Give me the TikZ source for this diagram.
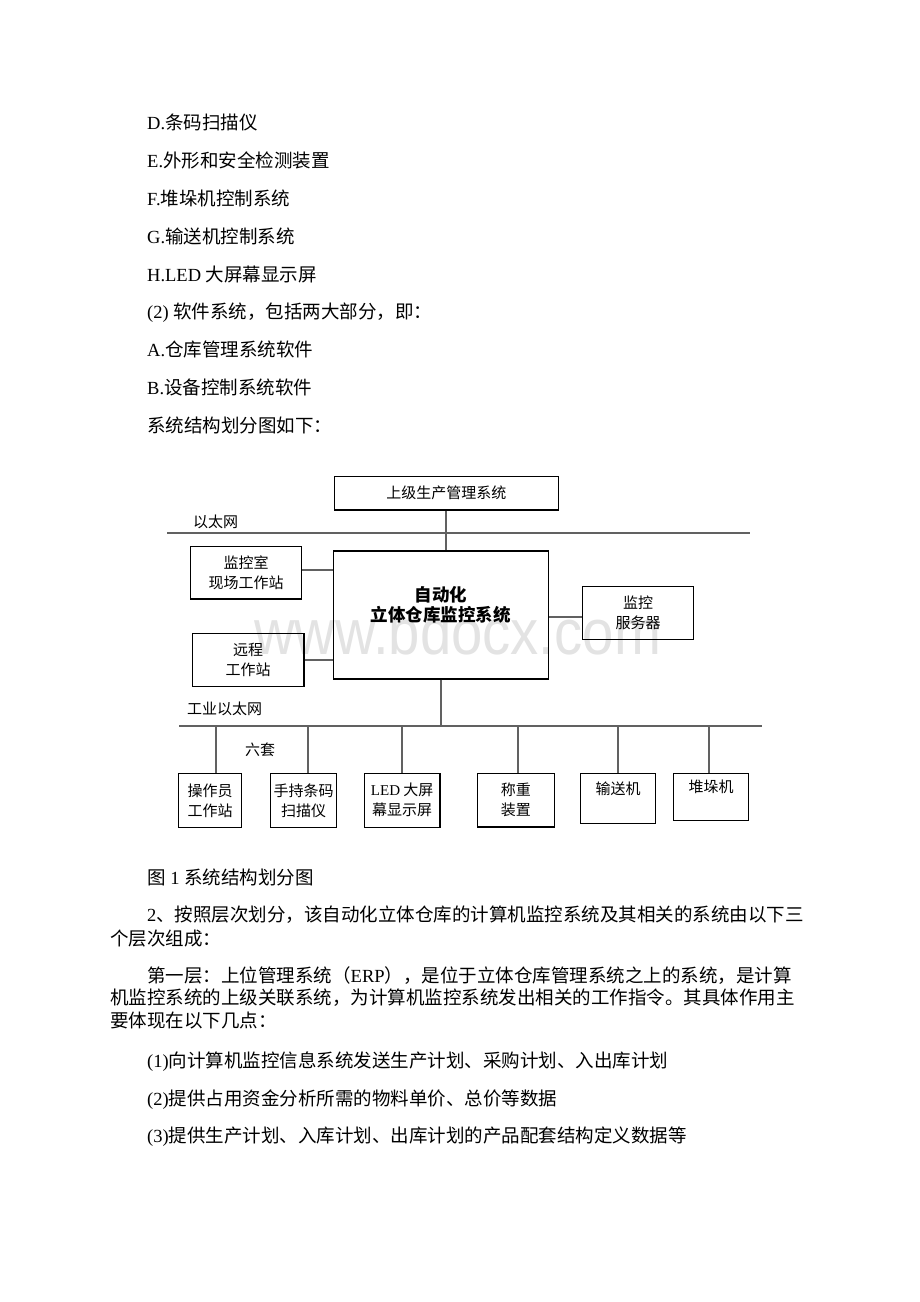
\documentclass[tikz,border=0pt]{standalone}
\usepackage{fontspec}
\setmainfont{Liberation Serif}
\setsansfont{Liberation Sans}
\newfontfamily\cjk{Noto Sans CJK SC}
\usetikzlibrary{positioning}
\newcommand\lat[1]{{\rmfamily #1}}
\newcommand\cuerpo{\cjk\fontsize{18.5}{22}\selectfont}
\newcommand\diag{\cjk\fontsize{15}{20}\selectfont}
\newcommand\diagbold{\cjk\bfseries\fontsize{17.5}{20}\selectfont}
\tikzset{
	linea/.style={anchor=west, inner sep=0pt, font=\cuerpo}, % renglones del texto
	caja/.style={draw, line width=1.2pt, inner sep=0pt, align=center, font=\diag}, % cajas del esquema
	etiqueta/.style={anchor=west, inner sep=0pt, font=\diag}, % nombres de las redes
	enlace/.style={draw=black!62, line width=1.8pt}, % lineas de conexion
	marca/.style={anchor=base west, inner sep=0pt, text=black!11, xscale=0.88,
		font=\sffamily\fontsize{64}{64}\selectfont} % marca de agua
}

\begin{document}
\begin{tikzpicture}[x=1pt, y=-1pt]
	\useasboundingbox (0,0) rectangle (920,1302);
	\node[marca] (wm) at (254,654) {www.bdocx.com};

	% texto de arriba
	\node[linea] (d) at (147,122) {\lat{D.}条码扫描仪};
	\node[linea] (e) at (147,160) {\lat{E.}外形和安全检测装置};
	\node[linea] (f) at (147,198) {\lat{F.}堆垛机控制系统};
	\node[linea] (g) at (147,236.5) {\lat{G.}输送机控制系统};
	\node[linea] (h) at (147,274) {\lat{H.LED }大屏幕显示屏};
	\node[linea] (sw) at (147,312.5) {\lat{(2) }软件系统，包括两大部分，即：};
	\node[linea] (a) at (147,349.5) {\lat{A.}仓库管理系统软件};
	\node[linea] (b) at (147,387) {\lat{B.}设备控制系统软件};
	\node[linea] (intro) at (147,425) {系统结构划分图如下：};

	% esquema
	\node[caja, minimum width=224, minimum height=33.3] (erp) at (446.3,493.3) {上级生产管理系统};
	\node[caja, font=\diagbold, minimum width=215, minimum height=128] (main) at (440.8,615) {自动化\\立体仓库监控系统\\\phantom{自}};
	\node[caja, minimum width=111, minimum height=52.3] (room) at (246.2,572.8) {监控室\\现场工作站};
	\node[caja, minimum width=111.7, minimum height=53.4] (remote) at (248.2,660) {远程\\工作站};
	\node[caja, minimum width=110.6, minimum height=52.6] (server) at (638,613) {监控\\服务器};

	\node[caja, minimum width=63.4, minimum height=54] (op) at (210,800.3) {操作员\\工作站};
	\node[caja, minimum width=66, minimum height=54] (scan) at (303.7,800.3) {手持条码\\扫描仪};
	\node[caja, minimum width=75.7, minimum height=54] (led) at (402.2,800.3) {\lat{LED} 大屏\\幕显示屏};
	\node[caja, minimum width=77, minimum height=53.7] (weigh) at (515.8,800.2) {称重\\装置};
	\node[caja, minimum width=75, minimum height=50] (conv) at (618.2,798.3) {输送机\\\phantom{输送机}};
	\node[caja, minimum width=75.4, minimum height=47.4] (stack) at (711,797) {堆垛机\\\phantom{堆垛机}};

	\node[etiqueta] (eth label) at (193,521.7) {以太网};
	\node[etiqueta] (ind label) at (187,709) {工业以太网};
	\node[etiqueta] (six) at (245,750) {六套};

	\coordinate (eth w) at (167.3,532.7);
	\coordinate (eth e) at (750,532.7);
	\coordinate (ind w) at (179,726);
	\coordinate (ind e) at (761.7,726);

	\draw[enlace] (eth w) -- (eth e);
	\draw[enlace] (ind w) -- (ind e);
	\draw[enlace] (erp.south) -- (erp.south |- main.north);
	\draw[enlace] ([yshift=2.8pt]room.east) coordinate (r) -- (r -| main.west);
	\draw[enlace] (remote.east) -- (remote.east -| main.west);
	\draw[enlace] ([yshift=-3.7pt]server.west) coordinate (s) -- (s -| main.east);
	\draw[enlace] (main.south) -- (main.south |- ind w);
	\draw[enlace] ([xshift=5.7pt]op.north) coordinate (o) -- (o |- ind w);
	\draw[enlace] ([xshift=4.3pt]scan.north) coordinate (c) -- (c |- ind w);
	\draw[enlace] (led.north) -- (led.north |- ind w);
	\draw[enlace] ([xshift=2.5pt]weigh.north) coordinate (w) -- (w |- ind w);
	\draw[enlace] (conv.north) -- (conv.north |- ind w);
	\draw[enlace] ([xshift=-2.3pt]stack.north) coordinate (k) -- (k |- ind w);

	% texto de abajo
	\node[linea] (cap) at (147,877) {图\lat{ 1 }系统结构划分图};
	\node[linea] (p1a) at (147,915) {\lat{2}、按照层次划分，该自动化立体仓库的计算机监控系统及其相关的系统由以下三};
	\node[linea] (p1b) at (110,938.5) {个层次组成：};
	\node[linea] (p2a) at (147,975.5) {第一层：上位管理系统（\lat{ERP}），是位于立体仓库管理系统之上的系统，是计算};
	\node[linea] (p2b) at (110,998) {机监控系统的上级关联系统，为计算机监控系统发出相关的工作指令。其具体作用主};
	\node[linea] (p2c) at (110,1021) {要体现在以下几点：};
	\node[linea] (i1) at (147,1062) {\lat{(1)}向计算机监控信息系统发送生产计划、采购计划、入出库计划};
	\node[linea] (i2) at (147,1100) {\lat{(2)}提供占用资金分析所需的物料单价、总价等数据};
	\node[linea] (i3) at (147,1137) {\lat{(3)}提供生产计划、入库计划、出库计划的产品配套结构定义数据等};
\end{tikzpicture}
\end{document}
